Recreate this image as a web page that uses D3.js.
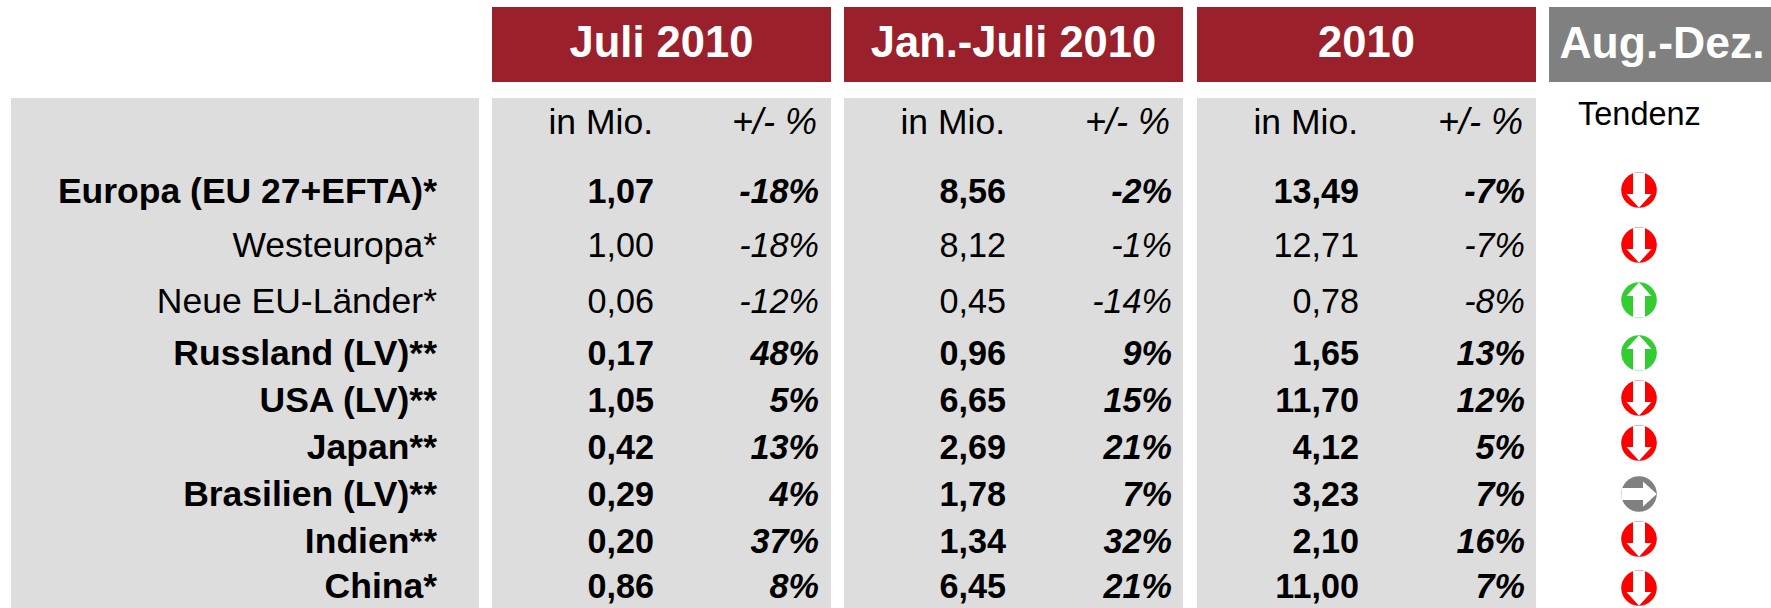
<!DOCTYPE html>
<html><head><meta charset="utf-8">
<script src="https://cdn.jsdelivr.net/npm/d3@7"></script>
<style>html,body{margin:0;padding:0;background:#fff}svg{display:block}text{font-family:"Liberation Sans",Arial,sans-serif}</style>
</head><body><svg id="c" width="1771" height="608"></svg>
<script>
const regions=["Europa (EU 27+EFTA)*","Westeuropa*","Neue EU-Länder*","Russland (LV)**","USA (LV)**","Japan**","Brasilien (LV)**","Indien**","China*"];
const emphasized=[true,false,false,true,true,true,true,true,true];
const periods=["Juli 2010","Jan.-Juli 2010","2010"];
const outlookTitle="Aug.-Dez.";
const outlookLabel="Tendenz";
const unitLabels=["in Mio.","+/- %"];
const juliMio=[1.07,1.00,0.06,0.17,1.05,0.42,0.29,0.20,0.86];
const juliPct=[-18,-18,-12,48,5,13,4,37,8];
const janJuliMio=[8.56,8.12,0.45,0.96,6.65,2.69,1.78,1.34,6.45];
const janJuliPct=[-2,-1,-14,9,15,21,7,32,21];
const jahrMio=[13.49,12.71,0.78,1.65,11.70,4.12,3.23,2.10,11.00];
const jahrPct=[-7,-7,-8,13,12,5,7,16,7];
const tendenz=["down","down","up","up","down","down","flat","down","down"];

const RED="#9a212c",GRAY="#808080",PANEL="#dddddd";
const svg=d3.select("#c");
const rowY=d3.scaleOrdinal().domain(regions).range([203,257,313,365,412,459,506,553,598]);
const iconY=d3.scaleOrdinal().domain(regions).range([190,245,300,353,398,443,494,539,588]);
const blocks=[{x0:492,x1:831,mio:juliMio,pct:juliPct,r1:654,r2:819},
 {x0:844,x1:1183,mio:janJuliMio,pct:janJuliPct,r1:1006,r2:1172},
 {x0:1197,x1:1536,mio:jahrMio,pct:jahrPct,r1:1359,r2:1525}];
const fmtNum=v=>d3.format(".2f")(v).replace(".",",");
const fmtPct=v=>d3.format("d")(v).replace("−","-")+"%";
const LABEL_FS=35.5,VALUE_FS=34.2;

svg.append("rect").attr("x",11).attr("y",98).attr("width",468).attr("height",510).attr("fill",PANEL);
svg.selectAll(".lab").data(regions).join("text").attr("class","lab")
 .attr("x",437).attr("y",d=>rowY(d)).attr("text-anchor","end")
 .attr("font-size",LABEL_FS).attr("font-weight",(d,i)=>emphasized[i]?700:400).text(d=>d);

blocks.forEach((b,k)=>{
 svg.append("rect").attr("x",b.x0).attr("y",7).attr("width",b.x1-b.x0).attr("height",75).attr("fill",RED);
 svg.append("text").attr("x",(b.x0+b.x1)/2).attr("y",57).attr("text-anchor","middle")
  .attr("font-size",43.5).attr("font-weight",700).attr("fill","#fff").text(periods[k]);
 svg.append("rect").attr("x",b.x0).attr("y",98).attr("width",b.x1-b.x0).attr("height",510).attr("fill",PANEL);
 svg.append("text").attr("x",b.r1-1).attr("y",134).attr("text-anchor","end").attr("font-size",LABEL_FS).text(unitLabels[0]);
 svg.append("text").attr("x",b.r2-2).attr("y",134).attr("text-anchor","end").attr("font-size",36).attr("font-style","italic").text(unitLabels[1]);
 const g=svg.append("g");
 g.selectAll(".m").data(regions).join("text").attr("class","m").attr("x",b.r1).attr("y",d=>rowY(d))
  .attr("text-anchor","end").attr("font-size",VALUE_FS).attr("font-weight",(d,i)=>emphasized[i]?700:400)
  .text((d,i)=>fmtNum(b.mio[i]));
 g.selectAll(".p").data(regions).join("text").attr("class","p").attr("x",b.r2).attr("y",d=>rowY(d))
  .attr("text-anchor","end").attr("font-size",VALUE_FS).attr("font-style","italic").attr("font-weight",(d,i)=>emphasized[i]?700:400)
  .text((d,i)=>fmtPct(b.pct[i]));
});

svg.append("rect").attr("x",1549).attr("y",7).attr("width",222).attr("height",75).attr("fill",GRAY);
svg.append("text").attr("x",1662).attr("y",58).attr("text-anchor","middle").attr("font-size",44.5).attr("font-weight",700).attr("fill","#fff").text(outlookTitle);
svg.append("text").attr("x",1578).attr("y",125).attr("font-size",32.5).text(outlookLabel);

const iconColor=d3.scaleOrdinal().domain(["down","up","flat"]).range(["#ff0000","#33cc33","#808080"]);
const iconAngle=d3.scaleOrdinal().domain(["down","up","flat"]).range([0,180,-90]);
const R=17.8;
const arrowPts=[[-6,-R],[6,-R],[6,4],[12.5,4],[0,R],[-12.5,4],[-6,4]];
const defs=svg.append("defs");
defs.append("clipPath").attr("id","disc").append("circle").attr("r",R);
const icons=svg.selectAll(".ic").data(regions).join("g").attr("class","ic")
 .attr("transform",d=>`translate(1639,${iconY(d)})`);
icons.append("circle").attr("r",R).attr("fill",(d,i)=>iconColor(tendenz[i]));
icons.append("g").attr("clip-path","url(#disc)").append("polygon")
 .attr("points",arrowPts.map(p=>p.join(",")).join(" ")).attr("fill","#fff")
 .attr("transform",(d,i)=>`rotate(${iconAngle(tendenz[i])})`);
</script></body></html>
